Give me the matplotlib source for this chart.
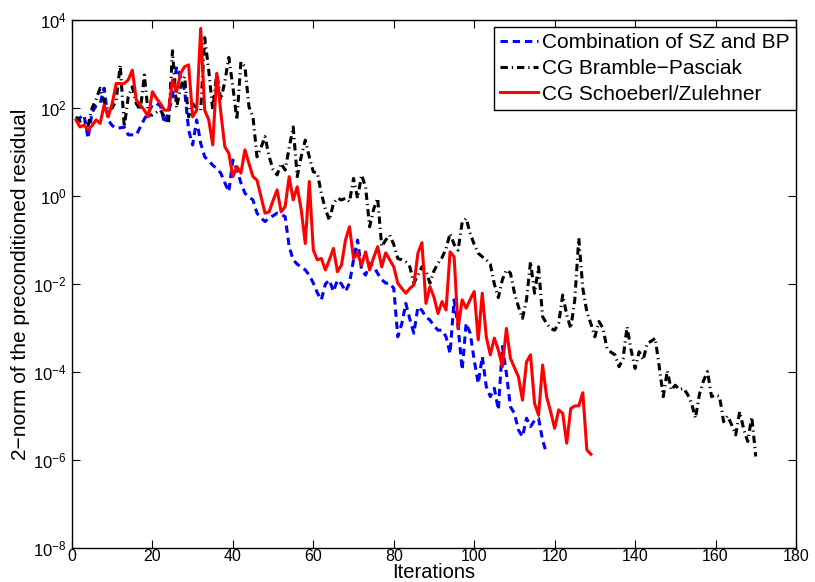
import numpy as np
import matplotlib
matplotlib.use("Agg")
import matplotlib.pyplot as plt

plt.rcParams['font.family'] = ['Liberation Sans', 'DejaVu Sans']
plt.rcParams['mathtext.fontset'] = 'custom'
plt.rcParams['mathtext.rm'] = 'Liberation Sans'
plt.rcParams['mathtext.it'] = 'Liberation Sans:italic'

# log10 of residual norms (one value per iteration)
blue_log10 = [1.70, 1.78, 1.84, 1.31, 1.9, 2.05, 2.1, 2.45, 1.73, 1.6,
              1.54, 1.55, 1.57, 1.39, 1.39, 1.39, 1.57, 1.75, 1.9, 2.07,
              2.1, 2.05, 1.65, 1.9, 2.26, 2.94, 2.7, 2.41, 1.5, 1.16,
              1.73, 1.2, 0.89, 0.8, 0.7, 0.62, 0.52, 0.3, 0.1, 0.82,
              0.6, 0.3, 0.06, -0.02, -0.09, -0.39, -0.5, -0.58, -0.5, -0.45,
              -0.39, -0.42, -0.47, -1.15, -1.45, -1.55, -1.61, -1.68, -1.8, -1.98,
              -2.2, -2.36, -2.0, -1.91, -2.17, -1.91, -2.0, -2.17, -1.98, -1.45,
              -1.0, -1.68, -1.8, -1.53, -1.6, -1.76, -1.9, -1.98, -1.98, -2.1,
              -3.2, -2.9, -2.44, -2.8, -3.12, -2.52, -2.6, -2.75, -2.82, -2.95,
              -3.05, -3.05, -3.2, -3.58, -2.36, -2.97, -3.95, -2.89, -3.12, -3.73,
              -4.26, -3.65, -4.33, -4.56, -4.37, -4.86, -3.42, -4.03, -4.79, -4.94,
              -5.32, -5.47, -5.05, -5.24, -5.1, -5.05, -5.55, -5.85]

black_log10 = [1.8, 1.7, 1.73, 1.6, 2.0, 2.2, 2.45, 2.14, 1.95, 2.0,
               2.18, 2.98, 1.57, 2.26, 2.48, 2.1, 1.95, 2.75, 1.84, 1.84,
               1.9, 1.95, 1.8, 1.65, 3.3, 2.0, 2.48, 2.71, 1.8, 2.1,
               2.0, 1.95, 3.6, 2.86, 1.95, 2.8, 2.18, 2.6, 3.15, 2.48,
               1.73, 3.05, 2.94, 2.03, 1.8, 0.89, 1.1, 1.35, 0.9, 0.6,
               0.48, 0.74, 0.59, 1.1, 1.57, 0.44, 0.9, 1.27, 0.89, 0.55,
               0.52, 0.06, -0.3, -0.55, -0.17, -0.05, -0.09, -0.05, -0.13, 0.4,
               -0.05, 0.48, 0.2, -0.70, -0.3, -0.05, -1.15, -1.0, -0.89, -1.1,
               -1.42, -1.45, -1.5, -1.61, -1.98, -1.8, -1.61, -1.7, -1.98, -1.7,
               -1.53, -1.4, -1.2, -0.85, -1.1, -1.23, -0.6, -0.51, -0.85, -1.1,
               -1.3, -1.38, -1.45, -1.55, -2.0, -2.31, -1.9, -1.68, -1.75, -2.2,
               -2.52, -2.78, -2.36, -1.49, -2.21, -1.61, -2.74, -2.9, -3.01, -3.05,
               -2.89, -2.25, -2.7, -3.01, -2.36, -0.96, -2.1, -2.63, -2.9, -3.2,
               -2.85, -3.0, -3.46, -3.55, -3.61, -3.88, -3.7, -2.97, -3.5, -3.92,
               -3.54, -3.73, -3.35, -3.3, -3.23, -3.88, -4.56, -3.97, -4.41, -4.3,
               -4.4, -4.37, -4.5, -4.7, -5.05, -4.5, -4.2, -3.99, -4.56, -4.52,
               -4.56, -5.13, -5.0, -5.2, -5.43, -4.90, -5.3, -5.58, -5.02, -5.92]

red_log10 = [1.73, 1.57, 1.61, 1.5, 1.6, 1.73, 1.65, 2.07, 1.8, 2.1,
             2.56, 2.55, 2.56, 2.64, 2.86, 2.18, 2.07, 1.95, 1.8, 2.37,
             2.22, 2.1, 1.95, 1.95, 2.64, 2.37, 2.79, 2.94, 2.98, 1.8,
             1.95, 3.81, 1.95, 1.73, 1.16, 2.79, 1.9, 1.12, 0.97, 0.44,
             0.67, 0.52, 1.05, 0.74, 0.44, 0.36, -0.02, -0.39, -0.36, -0.1,
             0.14, -0.36, -0.24, 0.44, -0.09, 0.21, -0.32, -1.08, 0.33, -1.23,
             -1.45, -1.42, -1.68, -1.45, -1.19, -1.72, -1.57, -1.0, -0.70, -1.42,
             -1.30, -1.57, -1.27, -1.68, -1.4, -1.15, -1.61, -1.29, -1.45, -1.61,
             -1.98, -2.1, -2.21, -2.1, -2.02, -1.30, -1.06, -2.44, -2.06, -2.3,
             -2.67, -2.40, -2.59, -1.27, -1.38, -3.01, -2.36, -2.55, -2.35, -2.17,
             -3.27, -2.21, -3.20, -3.61, -3.23, -3.5, -3.88, -3.01, -3.69, -3.9,
             -4.11, -4.64, -3.77, -3.61, -4.71, -4.98, -3.84, -4.56, -4.9, -5.28,
             -4.86, -4.94, -5.62, -4.83, -4.77, -4.77, -4.47, -5.77, -5.87]

labels = ["Combination of SZ and BP", "CG Bramble\u2212Pasciak", "CG Schoeberl/Zulehner"]

blue = np.power(10.0, blue_log10)
black = np.power(10.0, black_log10)
red = np.power(10.0, red_log10)
it_blue = np.arange(1, len(blue) + 1)
it_black = np.arange(1, len(black) + 1)
it_red = np.arange(1, len(red) + 1)

fig = plt.figure(figsize=(8.15, 5.82), dpi=100)
ax = fig.add_axes([0.0883, 0.0584, 0.8884, 0.9072])

ax.semilogy(it_blue, blue, color='#0000ff', linestyle=(0, (2.4, 1.6)), linewidth=2.2,
            label=labels[0])
ax.semilogy(it_black, black, color='black', linestyle=(0, (2.4, 1.3, 0.4, 1.3)),
            linewidth=2.2, label=labels[1])
ax.semilogy(it_red, red, color='#ff0000', linestyle='-', linewidth=2.2, label=labels[2])

ax.set_xlim(0, 180)
ax.set_ylim(1e-8, 1e4)
ax.set_xticks(np.arange(0, 181, 20))
ax.set_yticks([1e-8, 1e-6, 1e-4, 1e-2, 1e0, 1e2, 1e4])
ax.minorticks_off()
ax.tick_params(direction='in', top=True, right=True, length=6, width=0.8,
               labelsize=12, pad=4)
ax.tick_params(axis='x', pad=1, labelsize=11.5)
for s in ax.spines.values():
    s.set_linewidth(1.0)

ax.set_xlabel("Iterations", fontsize=14.5, labelpad=-1)
ax.set_ylabel("2\u2212norm of the preconditioned residual", fontsize=15, labelpad=2)

leg = ax.legend(loc='upper right', bbox_to_anchor=(1.0, 1 - 7 / 528), fontsize=15,
                handlelength=1.8, handletextpad=0.2, borderpad=0.3, labelspacing=0.32,
                borderaxespad=0.0, fancybox=False, framealpha=1)
leg.get_frame().set_edgecolor('black')
leg.get_frame().set_linewidth(1.0)

fig.savefig("out.png", dpi=100)
